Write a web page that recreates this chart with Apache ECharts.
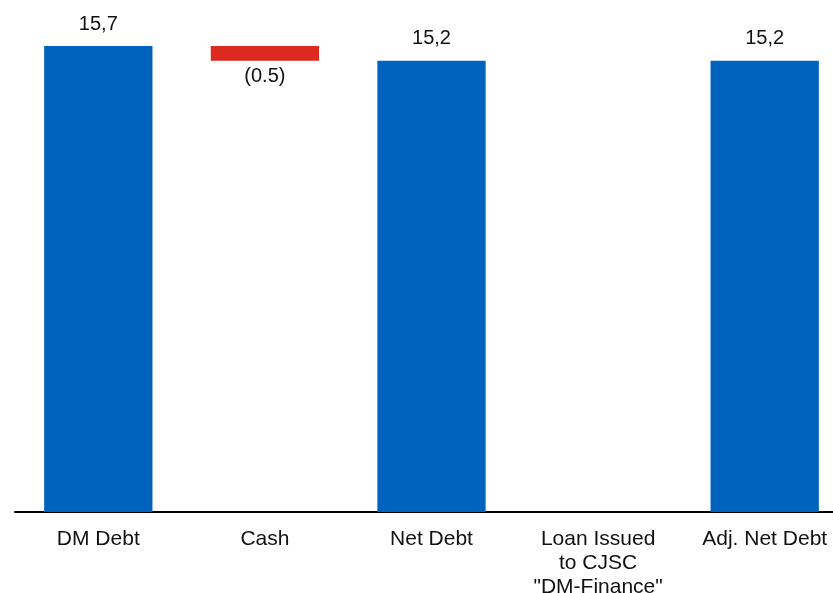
<!DOCTYPE html>
<html>
<head>
<meta charset="utf-8">
<script src="https://cdn.jsdelivr.net/npm/echarts@6/dist/echarts.min.js"></script>
<style>
  html, body { margin: 0; padding: 0; background: #fff; }
  #chart { width: 833px; height: 593px; }
</style>
</head>
<body>
<div id="chart"></div>
<script>
// Waterfall data
const categories = ['DM Debt', 'Cash', 'Net Debt', 'Loan Issued\nto CJSC\n"DM-Finance"', 'Adj. Net Debt'];
const values = [15.7, -0.5, 15.2, 0, 15.2];
const isTotal = [true, false, true, false, true];
const valueLabels = ['15,7', '(0.5)', '15,2', '', '15,2'];

const blue = '#0063be';
const red = '#dc2a21';

// Build invisible base + visible step
let running = 0;
const base = [];
const step = [];
values.forEach((v, i) => {
  if (isTotal[i]) {
    running = v;
    base.push(0);
    step.push({ value: v, itemStyle: { color: blue },
      label: { position: 'top', distance: 12 } });
  } else {
    const next = running + v;
    base.push(Math.min(running, next));
    step.push({ value: Math.abs(v), itemStyle: { color: v < 0 ? red : blue },
      label: { position: v < 0 ? 'bottom' : 'top', distance: 6 } });
    running = next;
  }
});

const chart = echarts.init(document.getElementById('chart'));
chart.setOption({
  animation: false,
  grid: { left: 15, right: -15, top: 46, bottom: 81, outerBoundsMode: 'none' },
  xAxis: {
    type: 'category',
    data: categories,
    axisLine: { lineStyle: { color: '#000', width: 2 } },
    axisTick: { show: false },
    axisLabel: {
      color: '#111',
      fontFamily: 'Liberation Sans',
      fontSize: 21,
      lineHeight: 24,
      margin: 15,
      interval: 0
    }
  },
  yAxis: {
    type: 'value',
    min: 0,
    max: 15.7,
    show: false,
    splitLine: { show: false }
  },
  series: [
    {
      type: 'bar',
      stack: 'w',
      barWidth: '65%',
      data: base,
      itemStyle: { color: 'transparent' },
      emphasis: { disabled: true },
      silent: true
    },
    {
      type: 'bar',
      stack: 'w',
      barWidth: '65%',
      data: step,
      label: {
        show: true,
        color: '#111',
        fontFamily: 'Liberation Sans',
        fontSize: 20,
        formatter: p => valueLabels[p.dataIndex]
      }
    }
  ]
});
</script>
</body>
</html>
